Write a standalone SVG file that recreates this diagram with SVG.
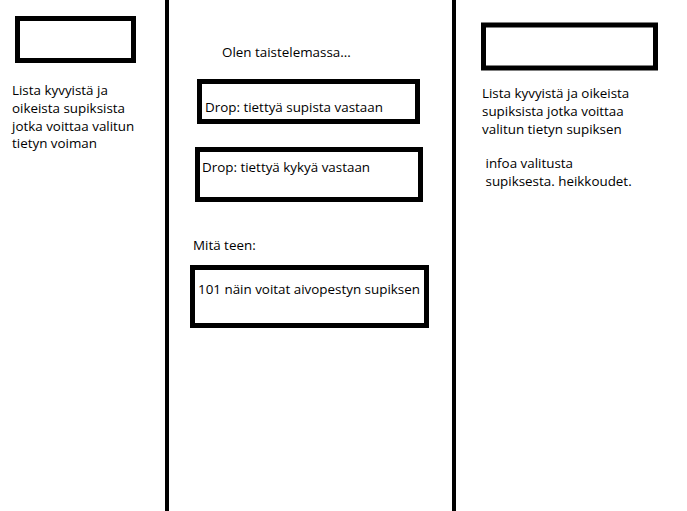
<svg xmlns="http://www.w3.org/2000/svg" width="687" height="511" viewBox="0 0 687 511">
<style>
.box{fill:none;stroke:#000;stroke-width:5}
.col{stroke:#000;stroke-width:4}
text{font-family:"Open Sans","Noto Sans",sans-serif;font-size:13.4px;fill:#000}
</style>
<rect width="687" height="511" fill="#fff"/>
<g id="dividers">
<line class="col" x1="167" y1="0" x2="167" y2="511"/>
<line class="col" x1="454" y1="0" x2="454" y2="511"/>
</g>
<g id="left-panel">
<rect class="box" x="17.5" y="18.5" width="116" height="42"/>
<text x="12" y="94.5">Lista kyvyistä ja</text>
<text x="12" y="112.5">oikeista supiksista</text>
<text x="12" y="130.5">jotka voittaa valitun</text>
<text x="12" y="148">tietyn voiman</text>
</g>
<g id="title">
<text x="222" y="57">Olen taistelemassa...</text>
</g>
<g id="drop-supista">
<rect class="box" x="199.5" y="81.5" width="218" height="40"/>
<text x="205" y="111.5">Drop: tiettyä supista vastaan</text>
</g>
<g id="drop-kyky">
<rect class="box" x="197.5" y="149.5" width="223" height="50"/>
<text x="202" y="171.5">Drop: tiettyä kykyä vastaan</text>
</g>
<g id="mita-teen">
<text x="193" y="250">Mitä teen:</text>
</g>
<g id="action">
<rect class="box" x="192.5" y="267.5" width="234" height="58"/>
<text x="198" y="294">101 näin voitat aivopestyn supiksen</text>
</g>
<g id="right-panel">
<rect class="box" x="483.5" y="25" width="172" height="43"/>
<text x="482" y="97.5">Lista kyvyistä ja oikeista</text>
<text x="482" y="115.5">supiksista jotka voittaa</text>
<text x="482" y="133.5">valitun tietyn supiksen</text>
<text x="485.5" y="167.5">infoa valitusta</text>
<text x="485.5" y="185.5">supiksesta. heikkoudet.</text>
</g>
<g id="connectors"/>
</svg>
